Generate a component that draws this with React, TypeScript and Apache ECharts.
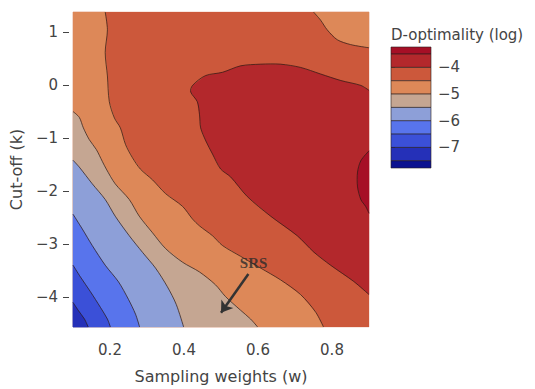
import React, { useEffect, useRef } from "react";
import * as echarts from "echarts";

// Axis ranges and ticks
const xRange = [0.1, 0.9];
const yRange = [-4.57, 1.38];
const xTicks = [0.2, 0.4, 0.6, 0.8];
const yTicks = [-4, -3, -2, -1, 0, 1];

// Colour bar: level edges (top to bottom) and band colours
const cbEdges = [-3.235, -3.5, -4, -4.5, -5, -5.5, -6, -6.5, -7, -7.5, -7.77];
const cbTicks = [-7, -6, -5, -4];
const levelColors = [
  "#a60f26", "#b3282c", "#cc583b", "#dd8858", "#c5a692",
  "#8d9fd8", "#5874ec", "#3b50d8", "#2530b8", "#0c1290",
];

// Contour lines (w, k)
const level45Left = [
  [0.187, 1.38], [0.193, 1.043], [0.187, 0.617], [0.193, 0.172], [0.198, -0.309],
  [0.212, -0.624], [0.228, -0.809], [0.242, -1.124], [0.26, -1.365], [0.282, -1.587],
  [0.315, -1.791], [0.35, -2.05], [0.396, -2.291], [0.423, -2.531], [0.442, -2.661],
  [0.477, -2.846], [0.504, -3.031], [0.553, -3.235], [0.607, -3.457], [0.661, -3.68],
  [0.715, -3.957], [0.756, -4.291], [0.777, -4.57],
];
const level45Right = [
  [0.75, 1.38], [0.769, 1.228], [0.787, 1.043], [0.814, 0.857], [0.85, 0.765], [0.9, 0.704],
];
const level50 = [
  [0.1, -0.5], [0.117, -0.61], [0.128, -0.809], [0.144, -1.031], [0.163, -1.217],
  [0.179, -1.439], [0.19, -1.587], [0.214, -1.865], [0.252, -2.161], [0.279, -2.476],
  [0.315, -2.791], [0.35, -3.087], [0.396, -3.346], [0.442, -3.531], [0.485, -3.772],
  [0.512, -3.994], [0.553, -4.254], [0.58, -4.42], [0.599, -4.57],
];
const level55 = [
  [0.1, -1.42], [0.117, -1.55], [0.152, -1.865], [0.187, -2.161], [0.214, -2.476],
  [0.252, -2.846], [0.288, -3.161], [0.323, -3.457], [0.355, -3.809], [0.379, -4.143],
  [0.399, -4.57],
];
const level60 = [
  [0.1, -2.439], [0.125, -2.717], [0.152, -3.031], [0.187, -3.402], [0.223, -3.717],
  [0.25, -4.05], [0.269, -4.328], [0.28, -4.57],
];
const level65 = [
  [0.1, -3.402], [0.12, -3.624], [0.147, -3.902], [0.174, -4.198], [0.193, -4.42], [0.201, -4.57],
];
const level70 = [[0.1, -4.106], [0.114, -4.254], [0.131, -4.42], [0.141, -4.57]];
const level40 = [
  [0.9, -0.1], [0.878, -0.007], [0.824, 0.085], [0.769, 0.209], [0.715, 0.333],
  [0.661, 0.394], [0.607, 0.394], [0.553, 0.363], [0.504, 0.241], [0.458, 0.178],
  [0.423, -0.007], [0.418, -0.13], [0.436, -0.315], [0.442, -0.563], [0.445, -0.809],
  [0.459, -1.056], [0.477, -1.302], [0.499, -1.586], [0.526, -1.735], [0.571, -2.106],
  [0.634, -2.476], [0.706, -2.846], [0.751, -3.156], [0.796, -3.402], [0.859, -3.711],
  [0.9, -3.957],
];
const level35 = [
  [0.9, -1.243], [0.878, -1.428], [0.869, -1.644], [0.869, -1.922], [0.878, -2.163],
  [0.891, -2.293], [0.9, -2.422],
];

// SRS annotation
const srsLabel = [0.588, -3.37];
const srsArrowFrom = [0.574, -3.57];
const srsArrowTo = [0.5, -4.3];

const [x0, x1] = xRange;
const [y0, y1] = yRange;

const regions = [
  { pts: [[x0, y0], [x1, y0], [x1, y1], [x0, y1]], c: 2 },
  { pts: [...level45Left, [x0, y0], [x0, y1]], c: 3 },
  { pts: [...level45Right, [x1, y1]], c: 3 },
  { pts: [...level50, [x0, y0]], c: 4 },
  { pts: [...level55, [x0, y0]], c: 5 },
  { pts: [...level60, [x0, y0]], c: 6 },
  { pts: [...level65, [x0, y0]], c: 7 },
  { pts: [...level70, [x0, y0]], c: 8 },
  { pts: level40, c: 1 },
  { pts: level35, c: 0 },
];
const contourLines = [level45Left, level45Right, level50, level55, level60, level65, level70, level40, level35];
const cbBands = cbEdges.slice(0, -1).map((hi, i) => ({ hi, lo: cbEdges[i + 1], c: i }));

const minus = (v: number) => (v < 0 ? "\u2212" + String(Math.abs(v)) : String(v));
const FONT = "DejaVu Sans";
const GREY = "#444";

export default function App() {
  const ref = useRef<HTMLDivElement>(null);
  useEffect(() => {
    if (!ref.current) return;
    const chart = echarts.init(ref.current, undefined, { renderer: "svg" });
    chart.setOption({
      animation: false,
      backgroundColor: "#fff",
      textStyle: { fontFamily: FONT },
      title: {
        text: "D-optimality (log)",
        left: 386,
        top: 22,
        textStyle: { fontFamily: FONT, fontSize: 15, fontWeight: "normal", color: GREY },
      },
      grid: [
        { left: 73, top: 12, right: 166, bottom: 56 },
        { left: 391, top: 47, width: 40, height: 121 },
      ],
      xAxis: [
        {
          gridIndex: 0, type: "value", min: x0, max: x1, offset: 4,
          axisLine: { show: false },
          axisTick: { show: true, length: 5, customValues: xTicks, lineStyle: { color: GREY } },
          axisLabel: { customValues: xTicks, margin: 11, color: GREY, fontSize: 15, fontFamily: FONT, formatter: (v: number) => v.toFixed(1) },
          splitLine: { show: false },
          name: "Sampling weights (w)", nameLocation: "middle", nameGap: 37,
          nameTextStyle: { color: GREY, fontSize: 16, fontFamily: FONT },
        },
        { gridIndex: 1, type: "value", min: 0, max: 1, show: false },
      ],
      yAxis: [
        {
          gridIndex: 0, type: "value", min: y0, max: y1, offset: 4,
          axisLine: { show: false },
          axisTick: { show: true, length: 6, customValues: yTicks, lineStyle: { color: GREY } },
          axisLabel: { customValues: yTicks, margin: 11, color: GREY, fontSize: 15, fontFamily: FONT, formatter: minus },
          splitLine: { show: false },
          name: "Cut-off (k)", nameLocation: "middle", nameGap: 43, nameRotate: 90,
          nameTextStyle: { color: GREY, fontSize: 16, fontFamily: FONT },
        },
        {
          gridIndex: 1, type: "value", position: "right", min: cbEdges[cbEdges.length - 1], max: cbEdges[0],
          axisLine: { show: false },
          axisTick: { show: true, length: 4, customValues: cbTicks, lineStyle: { color: GREY } },
          axisLabel: { customValues: cbTicks, margin: 7, color: GREY, fontSize: 15, fontFamily: FONT, formatter: minus },
          splitLine: { show: false },
        },
      ],
      series: [
        {
          type: "custom", xAxisIndex: 0, yAxisIndex: 0, silent: true,
          data: regions.map((r) => [r.pts[0][0], r.pts[0][1]]),
          renderItem: (params: any, api: any) => {
            const r = regions[params.dataIndex];
            return {
              type: "polygon",
              shape: { points: r.pts.map((p) => api.coord(p)) },
              style: { fill: levelColors[r.c], stroke: levelColors[r.c], lineWidth: 0.3 },
            };
          },
        },
        {
          type: "custom", xAxisIndex: 0, yAxisIndex: 0, silent: true,
          data: contourLines.map((l) => [l[0][0], l[0][1]]),
          renderItem: (params: any, api: any) => {
            const l = contourLines[params.dataIndex];
            return {
              type: "polyline",
              shape: { points: l.map((p) => api.coord(p)), smooth: 0.3 },
              style: { fill: "none", stroke: "rgba(45,25,20,0.8)", lineWidth: 0.9 },
            };
          },
        },
        {
          type: "custom", xAxisIndex: 1, yAxisIndex: 1, silent: true,
          data: cbBands.map((b) => [0, b.hi]),
          renderItem: (params: any, api: any) => {
            const b = cbBands[params.dataIndex];
            const p0 = api.coord([0, b.hi]);
            const p1 = api.coord([1, b.lo]);
            return {
              type: "rect",
              shape: { x: p0[0], y: p0[1], width: p1[0] - p0[0], height: p1[1] - p0[1] },
              style: { fill: levelColors[b.c], stroke: "rgba(40,30,30,0.75)", lineWidth: 0.8 },
            };
          },
        },
        {
          type: "scatter", xAxisIndex: 0, yAxisIndex: 0, silent: true,
          symbolSize: 0,
          data: [srsLabel],
          label: {
            show: true, position: "inside", formatter: "SRS",
            fontFamily: "Liberation Serif", fontSize: 15, fontWeight: "bold", color: "#2a2a2a",
          },
          markLine: {
            silent: true,
            symbol: ["none", "arrow"],
            symbolSize: 11,
            label: { show: false },
            lineStyle: { color: "#333", width: 2.5, type: "solid" },
            data: [[{ coord: srsArrowFrom }, { coord: srsArrowTo }]],
          },
        },
      ],
    });
    return () => chart.dispose();
  }, []);
  return (
    <div
      ref={ref}
      style={{ position: "fixed", left: 0, top: 0, width: 535, height: 389, background: "#fff" }}
    />
  );
}
